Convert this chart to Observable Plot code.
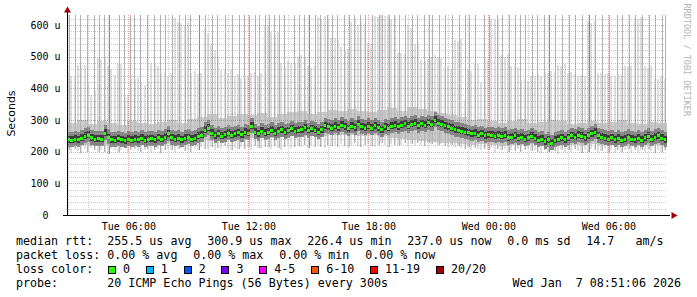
<!DOCTYPE html>
<html><head><meta charset="utf-8">
<script src="https://cdn.jsdelivr.net/npm/d3@7"></script>
<script src="https://cdn.jsdelivr.net/npm/@observablehq/plot@0.6"></script>
<style>
html,body{margin:0;padding:0;background:#fff;}
#wrap{position:relative;width:697px;height:297px;overflow:hidden;background:#fff;}
#chart svg{display:block;}
#legend{position:absolute;left:16px;top:234px;width:665px;font-family:"DejaVu Sans Mono",monospace;font-size:11.67px;line-height:14px;color:#000;white-space:pre;}
.line{position:relative;height:14px;}
.item{display:inline-block;margin-right:15.8px;}
.box{display:inline-block;width:6px;height:6px;border:1px solid #000;margin-right:7px;vertical-align:-1px;}
.ts{position:absolute;right:0;top:0;}
</style></head><body><div id="wrap"><div id="chart"></div><div id="legend"></div></div>
<script>
// ---- time axis ----
const startTime = "2026-01-06T02:56:00Z";   // left edge of graph
const spanMinutes = 1800;                    // 30 hours shown
const stepMinutes = 10;                      // sample width used for smoke/median
const xTickTimes = ["2026-01-06T06:00:00Z","2026-01-06T12:00:00Z","2026-01-06T18:00:00Z","2026-01-07T00:00:00Z","2026-01-07T06:00:00Z"];
const yTicks = [0,100,200,300,400,500,600];

// ---- median rtt (microseconds), one value per 10 min ----
const median = [
 238,236,240,237,242,248,252,244,239,241,
 240,258,246,238,236,241,237,235,239,236,
 240,238,243,236,239,241,237,244,240,246,
 256,244,240,243,238,242,245,240,243,248,
 252,268,274,258,250,256,248,254,258,252,
 256,260,254,262,258,280,262,256,264,258,
 262,268,258,264,270,262,266,272,264,268,
 270,276,266,272,268,262,270,282,278,274,
 280,276,284,278,272,280,276,286,278,274,
 280,274,282,276,270,278,274,280,284,278,
 284,288,280,286,290,282,288,284,292,286,
 300,290,286,282,278,274,270,268,264,262,
 260,256,258,252,256,250,254,252,248,252,
 248,252,244,246,250,242,246,240,244,248,
 242,236,240,232,238,227,236,240,244,238,
 244,250,246,252,248,244,250,256,262,250,
 246,242,240,244,238,242,236,240,246,240,
 238,242,236,244,248,240,246,250,242,237];

// ---- top of light smoke (outer pings), per 10 min ----
const smokeTop = [
 451,440,436,474,470,474,420,380,395,495,
 490,495,470,462,442,480,476,372,380,432,
 428,432,420,410,422,480,476,470,448,452,
 440,448,622,610,606,600,606,450,455,446,
 450,590,575,540,520,500,458,462,450,458,
 440,445,432,440,438,448,452,440,448,600,
 600,578,572,578,480,470,485,480,476,500,
 505,498,470,465,472,625,620,630,618,560,
 560,552,530,520,525,610,615,600,612,605,
 543,540,630,625,632,628,630,620,630,512,
 512,508,600,590,540,545,490,485,492,500,
 505,498,495,467,470,462,552,548,555,363,
 458,455,480,478,420,490,488,620,615,622,
 505,500,508,470,472,466,426,430,424,440,
 438,445,440,452,448,455,450,475,470,478,
 448,452,445,440,442,438,610,605,612,448,
 450,445,448,440,438,445,442,470,468,472,
 622,618,625,470,465,472,430,428,435,430];

// ---- bottom of light smoke, per 10 min ----
const smokeLow = [
 205,198,210,202,196,208,200,212,204,198,
 206,200,194,210,204,198,206,212,200,204,
 208,202,198,206,210,200,204,208,196,206,
 210,204,200,208,212,202,206,198,210,204,
 214,208,210,216,204,212,208,218,210,206,
 212,208,216,210,214,206,218,212,208,216,
 214,210,218,212,206,216,220,212,214,218,
 216,222,212,218,214,220,216,212,222,218,
 220,214,224,218,216,222,226,218,214,220,
 224,218,216,222,228,220,214,224,220,218,
 222,226,218,224,220,228,222,218,226,224,
 226,220,224,218,216,222,214,218,212,210,
 214,206,212,208,204,210,206,212,200,208,
 204,210,200,206,202,208,198,204,210,202,
 206,200,196,204,198,208,202,194,206,200,
 204,198,208,202,196,206,200,210,204,198,
 202,208,196,204,200,206,198,204,208,200,
 204,198,206,200,208,202,196,204,200,206];

// ---- mid smoke band, per 30 min ----
const midTop = [292,300,288,296,290,285,298,292,288,295,300,290,302,310,318,305,312,320,315,322,310,318,325,330,320,326,332,328,335,330,324,332,338,330,340,336,330,322,315,308,300,304,296,292,298,302,290,294,300,296,288,292,298,290,295,300,292,288,294,290];
const midLow = [220,222,218,222,220,218,222,220,224,222,226,230,232,236,234,238,240,238,242,244,242,246,248,250,248,250,252,254,252,250,252,248,244,240,236,234,230,228,226,224,222,224,220,218,220,222,224,222,220,222,222,220,224,222,220,222,220,222,220,222];

// ---- single pings above the graph top (minutes after start) ----
const spikeMinutes = [5,25,40,60,80,95,110,125,155,170,190,200,220,240,260,280,295,315,335,355,370,395,415,435,450,475,495,515,530,545,565,575,595,
 605,620,635,650,680,695,710,725,745,760,780,795,810,830,845,860,880,895,915,935,945,965,980,995,1015,1035,1050,1070,1085,1095,1115,1135,1155,1175,1195,
 1205,1225,1250,1265,1290,1305,1325,1345,1360,1375,1395,1410,1430,1445,1465,1485,1505,1525,1545,1565,1585,1605,1625,1650,1665,1685,1705,1725,1745,1765,1785,1795];
const darkSpikeMinutes = [125,395,725,1445,1565];

// ---- legend texts ----
const rttLabel = "median rtt:  ";
const rttStats = ["255.5 us avg","300.9 us max","226.4 us min","237.0 us now","0.0 ms sd","14.7   am/s"];
const lossLabel = "packet loss: ";
const lossStats = ["0.00 % avg","0.00 % max","0.00 % min","0.00 % now"];
const lossColorLabel = "loss color:  ";
const lossNames = ["0","1","2","3","4-5","6-10","11-19","20/20"];
const lossColors = ["#26ff00","#00b8ff","#0059ff","#7e00ff","#ff00ff","#ff5500","#ff0000","#a10000"];
const probeLabel = "probe:       ";
const probeText = "20 ICMP Echo Pings (56 Bytes) every 300s";
const stampText = "Wed Jan  7 08:51:06 2026";
const yLabel = "Seconds";
const watermark = "RRDTOOL / TOBI OETIKER";

// ---- build tables ----
const t0 = new Date(startTime).getTime();
const MIN = 60000;
const tEnd = new Date(t0 + spanMinutes*MIN);
const samples = median.map((m,i)=>({t0:new Date(t0+i*stepMinutes*MIN), t1:new Date(t0+(i+1)*stepMinutes*MIN), med:m, lo:smokeLow[i], hi:smokeTop[i]}));
const mids = midTop.map((v,j)=>({t0:new Date(t0+j*30*MIN), t1:new Date(t0+(j+1)*30*MIN), lo:midLow[j], hi:v}));
const yMax = 631.6;
const spikeRows = spikeMinutes.map(m=>({t:new Date(t0+m*MIN), lo:smokeLow[Math.min(179,Math.floor(m/stepMinutes))], dark:darkSpikeMinutes.includes(m)}));

const minorY = d3.range(20, 640, 20).filter(v=>v%100!==0 && v<yMax);
const majorY = yTicks.filter(v=>v>0);
const hourTicks = d3.utcHour.range(new Date(t0), tEnd);
const majorX = xTickTimes.map(s=>new Date(s));
const minorX = hourTicks.filter(d=>d.getUTCHours()%6!==0);
const days = ["Sun","Mon","Tue","Wed","Thu","Fri","Sat"];
const p2 = n=>String(n).padStart(2,"0");

const chart = Plot.plot({
  width: 697, height: 233,
  marginLeft: 67, marginRight: 30, marginTop: 15, marginBottom: 18,
  style: {fontFamily: "DejaVu Sans Mono", fontSize: "10px", background: "#fff", color: "#000"},
  x: {type: "utc", domain: [new Date(t0), tEnd], ticks: majorX, tickSize: 0, tickPadding: 7, label: null,
      tickFormat: d => `${days[d.getUTCDay()]} ${p2(d.getUTCHours())}:${p2(d.getUTCMinutes())}`},
  y: {domain: [0, yMax], ticks: yTicks, tickSize: 0, tickPadding: 7, label: null,
      tickFormat: v => v === 0 ? "0\u00a0\u00a0" : `${v} u`},
  marks: [
    Plot.rect(samples, {x1:"t0", x2:"t1", y1:"lo", y2:"hi", insetRight:1.2, fill:"#dedede", clip:true, shapeRendering:"crispEdges"}),
    Plot.ruleX(spikeRows, {x:"t", y1:"lo", y2:()=>yMax, stroke:d=>d.dark?"#8a8a8a":"#b2b2b2", clip:true, shapeRendering:"crispEdges"}),
    Plot.rect(mids, {x1:"t0", x2:"t1", y1:"lo", y2:"hi", fill:"#b8b8b8", fillOpacity:0.7, shapeRendering:"crispEdges"}),
    Plot.rect(samples, {x1:"t0", x2:"t1", y1:"med", y2:"med", insetTop:-8, insetBottom:-7, fill:"#7c7c7c", fillOpacity:0.9, shapeRendering:"crispEdges"}),
    Plot.rect(samples, {x1:"t0", x2:"t1", y1:"med", y2:"med", insetTop:-4, insetBottom:-3, fill:"#3c3c3c", shapeRendering:"crispEdges"}),
    Plot.rect(samples, {x1:"t0", x2:"t1", y1:"med", y2:"med", insetTop:-1.5, insetBottom:-1.5, insetRight:0.6, fill:"#26ff00", shapeRendering:"crispEdges"}),
    // grid
    Plot.ruleY(minorY, {stroke:"#ababab", strokeOpacity:0.6, strokeDasharray:"1,1", shapeRendering:"crispEdges"}),
    Plot.ruleX(minorX, {stroke:"#ababab", strokeOpacity:0.6, strokeDasharray:"1,1", shapeRendering:"crispEdges"}),
    Plot.ruleY(majorY, {stroke:"#dd3333", strokeOpacity:0.45, strokeDasharray:"1,1", shapeRendering:"crispEdges"}),
    Plot.ruleX(majorX, {stroke:"#dd3333", strokeOpacity:0.45, strokeDasharray:"1,1", shapeRendering:"crispEdges"}),
    // axes lines + arrows
    Plot.ruleY([0], {stroke:"#000", insetLeft:-4, insetRight:-3, shapeRendering:"crispEdges"}),
    Plot.ruleX([new Date(t0)], {stroke:"#000", insetTop:-3, shapeRendering:"crispEdges"}),
    Plot.dot([yMax], {x:()=>new Date(t0), y:d=>d, dy:-5, symbol:"triangle", r:2.6, fill:"#a00000", stroke:null}),
    Plot.dot([0], {x:()=>tEnd, y:d=>d, dx:6, symbol:"triangle", rotate:90, r:2.6, fill:"#a00000", stroke:null}),
    // texts
    Plot.text([yLabel], {text:d=>d, frameAnchor:"left", dx:-56, dy:-2, rotate:-90, fontFamily:"DejaVu Sans", fontSize:11, fill:"#000", textAnchor:"middle", lineAnchor:"middle"}),
    Plot.text([watermark], {text:d=>d, frameAnchor:"top-right", dx:19.5, dy:-12, rotate:90, fontFamily:"DejaVu Sans Mono", fontSize:8.5, fill:"#b4b4b4", textAnchor:"start", lineAnchor:"middle"})
  ]
});
document.getElementById("chart").appendChild(chart);

// ---- legend below svg ----
const lg = document.getElementById("legend");
function line(html){const d=document.createElement("div");d.className="line";d.innerHTML=html;lg.appendChild(d);return d;}
line(`<span class="item">${rttLabel}${rttStats[0]}</span>` + rttStats.slice(1).map(s=>`<span class="item">${s}</span>`).join(""));
line(`<span class="item">${lossLabel}${lossStats[0]}</span>` + lossStats.slice(1).map(s=>`<span class="item">${s}</span>`).join(""));
line(`<span class="item" style="margin-right:14.8px">${lossColorLabel.trimEnd()}</span>` + lossNames.map((n,i)=>`<span class="item"><span class="box" style="background:${lossColors[i]}"></span>${n}</span>`).join(""));
line(`<span>${probeLabel}${probeText}</span><span class="ts">${stampText}</span>`);
</script></body></html>
